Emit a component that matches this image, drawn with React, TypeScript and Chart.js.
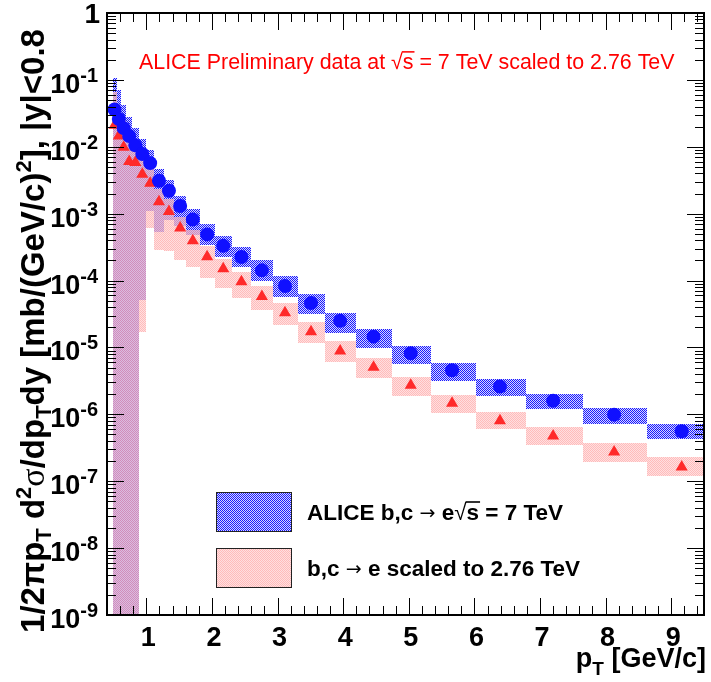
import React, { useEffect, useRef } from 'react';
import { Chart, registerables } from 'chart.js';
Chart.register(...registerables);

// ---------------- data ----------------
const binEdges = [0.485, 0.547, 0.616, 0.695, 0.783, 0.883, 0.996, 1.123, 1.266, 1.427, 1.609, 1.814, 2.045, 2.306, 2.6, 2.932, 3.306, 3.727, 4.202, 4.738, 5.342, 6.023, 6.791, 7.657, 8.633, 9.734];
const ptCenters = [0.515, 0.58, 0.654, 0.738, 0.832, 0.938, 1.058, 1.192, 1.344, 1.515, 1.708, 1.926, 2.172, 2.449, 2.761, 3.113, 3.51, 3.954, 4.463, 5.03, 5.66, 6.39, 7.2, 8.13, 9.16];

const aliceValue = [3.6e-2, 2.6e-2, 1.9e-2, 1.45e-2, 1.05e-2, 7.8e-3, 5.7e-3, 3.1e-3, 2.2e-3, 1.3e-3, 8.2e-4, 4.9e-4, 3.3e-4, 2.25e-4, 1.42e-4, 8.3e-5, 4.6e-5, 2.5e-5, 1.45e-5, 8.2e-6, 4.55e-6, 2.6e-6, 1.6e-6, 9.9e-7, 5.6e-7];
const aliceSysHigh = [1.07e-1, 7.1e-2, 4.2e-2, 2.8e-2, 1.9e-2, 1.3e-2, 8.9e-3, 4.7e-3, 3.2e-3, 1.84e-3, 1.16e-3, 6.9e-4, 4.7e-4, 3.2e-4, 2.0e-4, 1.17e-4, 6.3e-5, 3.27e-5, 1.89e-5, 1.05e-5, 5.86e-6, 3.38e-6, 2.01e-6, 1.24e-6, 7.2e-7];
const aliceSysLow = [1e-10, 1e-10, 1e-10, 1e-10, 1e-10, 5.1e-5, 1.1e-3, 5.3e-4, 8e-4, 6.5e-4, 4.8e-4, 3.4e-4, 2.27e-4, 1.6e-4, 1.0e-4, 5.7e-5, 3.13e-5, 1.66e-5, 9.9e-6, 5.7e-6, 3.18e-6, 1.9e-6, 1.19e-6, 7.2e-7, 4.3e-7];

const scaledValue = [2.1e-2, 1.45e-2, 9.8e-3, 6.0e-3, 5.8e-3, 3.9e-3, 2.84e-3, 1.51e-3, 1.08e-3, 6.1e-4, 3.94e-4, 2.27e-4, 1.5e-4, 9.6e-5, 5.8e-5, 3.3e-5, 1.72e-5, 8.85e-6, 5.05e-6, 2.72e-6, 1.46e-6, 8.0e-7, 4.75e-7, 2.73e-7, 1.63e-7];
const scaledSysHigh = [6.6e-2, 4.07e-2, 2.5e-2, 1.35e-2, 1.1e-2, 6.8e-3, 4.66e-3, 2.34e-3, 1.66e-3, 8.9e-4, 5.7e-4, 3.3e-4, 2.1e-4, 1.34e-4, 8.3e-5, 4.6e-5, 2.4e-5, 1.25e-5, 6.95e-6, 3.6e-6, 1.95e-6, 1.09e-6, 6.4e-7, 3.7e-7, 2.3e-7];
const scaledSysLow = [1e-10, 1e-10, 1e-10, 1e-10, 1e-10, 1.7e-5, 6.1e-4, 2.86e-4, 2.8e-4, 2.0e-4, 1.6e-4, 1.09e-4, 7.7e-5, 5.5e-5, 3.6e-5, 2.17e-5, 1.18e-5, 6.1e-6, 3.53e-6, 1.9e-6, 1.06e-6, 6.0e-7, 3.5e-7, 1.94e-7, 1.2e-7];

const xTickLabels = [1, 2, 3, 4, 5, 6, 7, 8, 9];
const yDecadeExponents = [0, -1, -2, -3, -4, -5, -6, -7, -8, -9];
const X_MIN = 0.4;
const X_MAX = 9.5;
const Y_MIN = 1e-9;
const Y_MAX = 1;

const headerText = ['ALICE Preliminary data at ', 's', ' = 7 TeV scaled to 2.76 TeV'];
const legendAlice = ['ALICE b,c ', ' e', 's', ' = 7 TeV'];
const legendScaled = ['b,c ', ' e scaled to 2.76 TeV'];

// ---------------- helpers ----------------
type Seg = { t: string; size: number; bold?: boolean; family?: string; dy?: number; over?: boolean };
const SANS = '"Liberation Sans", Arial, Helvetica, sans-serif';
const fontOf = (s: Seg) => `${s.bold ? 'bold ' : ''}${s.size}px ${s.family ?? SANS}`;

function richWidth(ctx: CanvasRenderingContext2D, segs: Seg[]) {
  let w = 0;
  for (const s of segs) {
    ctx.font = fontOf(s);
    w += ctx.measureText(s.t).width;
  }
  return w;
}

function drawRich(ctx: CanvasRenderingContext2D, segs: Seg[], x: number, y: number, align: 'left' | 'right' | 'center') {
  const w = richWidth(ctx, segs);
  let cx = align === 'left' ? x : align === 'right' ? x - w : x - w / 2;
  ctx.textAlign = 'left';
  ctx.textBaseline = 'alphabetic';
  for (const s of segs) {
    ctx.font = fontOf(s);
    const sw = ctx.measureText(s.t).width;
    ctx.fillText(s.t, cx, y + (s.dy ?? 0));
    if (s.over) {
      ctx.save();
      ctx.strokeStyle = ctx.fillStyle as string;
      ctx.lineWidth = Math.max(1, s.size / 14);
      ctx.beginPath();
      const oy = y + (s.dy ?? 0) - s.size * 0.8;
      ctx.moveTo(cx - 1, oy);
      ctx.lineTo(cx + sw + 1, oy);
      ctx.stroke();
      ctx.restore();
    }
    cx += sw;
  }
}

function makePattern(ctx: CanvasRenderingContext2D, a: string, b: string) {
  const c = document.createElement('canvas');
  c.width = 2;
  c.height = 2;
  const g = c.getContext('2d')!;
  g.fillStyle = a;
  g.fillRect(0, 0, 1, 1);
  g.fillRect(1, 1, 1, 1);
  g.fillStyle = b;
  g.fillRect(1, 0, 1, 1);
  g.fillRect(0, 1, 1, 1);
  return ctx.createPattern(c, 'repeat')!;
}

let bluePat: CanvasPattern | null = null;
let pinkPat: CanvasPattern | null = null;
function patterns(ctx: CanvasRenderingContext2D) {
  if (!bluePat) bluePat = makePattern(ctx, 'rgba(0,0,255,0.9)', 'rgba(0,0,255,0.16)');
  if (!pinkPat) pinkPat = makePattern(ctx, 'rgba(255,170,170,0.8)', 'rgba(255,0,0,0.12)');
  return { bluePat: bluePat!, pinkPat: pinkPat! };
}

const boxPlugin = {
  id: 'sysBoxes',
  beforeDatasetsDraw(chart: any) {
    const { ctx, chartArea: a, scales } = chart;
    const xs = scales.x;
    const ys = scales.y;
    const p = patterns(ctx);
    ctx.save();
    ctx.beginPath();
    ctx.rect(a.left, a.top, a.right - a.left, a.bottom - a.top);
    ctx.clip();
    const drawSet = (lo: number[], hi: number[], pat: CanvasPattern) => {
      ctx.fillStyle = pat;
      for (let i = 0; i < lo.length; i++) {
        const x0 = Math.round(xs.getPixelForValue(binEdges[i]));
        const x1 = Math.round(xs.getPixelForValue(binEdges[i + 1]));
        const yt = Math.round(ys.getPixelForValue(hi[i]));
        const yb = Math.round(Math.min(ys.getPixelForValue(lo[i]), a.bottom + 5));
        ctx.fillRect(x0, yt, x1 - x0, yb - yt);
      }
    };
    drawSet(aliceSysLow, aliceSysHigh, p.bluePat);
    drawSet(scaledSysLow, scaledSysHigh, p.pinkPat);
    ctx.restore();
  },
};

const framePlugin = {
  id: 'rootFrame',
  afterDraw(chart: any) {
    const { ctx, chartArea: a, scales } = chart;
    const xs = scales.x;
    const ys = scales.y;
    const p = patterns(ctx);
    ctx.save();
    ctx.strokeStyle = '#000';
    ctx.lineWidth = 1;
    const MAJ = 17;
    const MIN = 9;
    ctx.beginPath();
    // x ticks (every 0.2, major on integers)
    for (let k = 2; k <= 47; k++) {
      const v = k / 5;
      if (v < X_MIN - 1e-9 || v > X_MAX + 1e-9) continue;
      const px = Math.round(xs.getPixelForValue(v)) + 0.5;
      const len = k % 5 === 0 ? MAJ : MIN;
      ctx.moveTo(px, a.bottom);
      ctx.lineTo(px, a.bottom - len);
      ctx.moveTo(px, a.top);
      ctx.lineTo(px, a.top + len);
    }
    // y ticks (log)
    for (let d = -9; d <= 0; d++) {
      for (let m = 1; m <= 9; m++) {
        const v = m * Math.pow(10, d);
        if (v > Y_MAX * 1.0001) continue;
        const py = Math.round(ys.getPixelForValue(v)) + 0.5;
        const len = m === 1 ? MAJ : MIN;
        ctx.moveTo(a.left, py);
        ctx.lineTo(a.left + len, py);
        ctx.moveTo(a.right, py);
        ctx.lineTo(a.right - len, py);
      }
    }
    ctx.stroke();
    // frame
    ctx.lineWidth = 2;
    ctx.strokeRect(a.left, a.top, a.right - a.left, a.bottom - a.top);

    // tick labels
    ctx.fillStyle = '#000';
    for (const t of xTickLabels) {
      const px = xs.getPixelForValue(t);
      drawRich(ctx, [{ t: String(t), size: 27, bold: true }], px + 2, 646, 'center');
    }
    for (const e of yDecadeExponents) {
      const py = ys.getPixelForValue(Math.pow(10, e));
      if (e === 0) {
        drawRich(ctx, [{ t: '1', size: 28, bold: true }], 100, py + 10, 'right');
      } else {
        drawRich(ctx, [
          { t: '10', size: 27, bold: true },
          { t: String(e), size: 20, bold: true, dy: -11 },
        ], 98, py + 13, 'right');
      }
    }

    // axis titles
    drawRich(ctx, [
      { t: 'p', size: 27, bold: true },
      { t: 'T', size: 19, bold: true, dy: 8 },
      { t: ' [GeV/c]', size: 27, bold: true },
    ], 706, 667, 'right');

    ctx.save();
    ctx.translate(44, 331);
    ctx.rotate(-Math.PI / 2);
    drawRich(ctx, [
      { t: '1/2', size: 33, bold: true },
      { t: 'π', size: 33, bold: true },
      { t: 'p', size: 33, bold: true },
      { t: 'T', size: 22, bold: true, dy: 7 },
      { t: ' d', size: 33, bold: true },
      { t: '2', size: 22, bold: true, dy: -13 },
      { t: 'σ', size: 34, family: '"Liberation Serif", "Times New Roman", serif' },
      { t: '/dp', size: 33, bold: true },
      { t: 'T', size: 22, bold: true, dy: 7 },
      { t: 'dy [mb/(GeV/c)', size: 33, bold: true },
      { t: '2', size: 22, bold: true, dy: -13 },
      { t: '], |y|<0.8', size: 33, bold: true },
    ], 0, 0, 'center');
    ctx.restore();

    // header
    ctx.fillStyle = '#ff0000';
    drawRich(ctx, [
      { t: headerText[0], size: 21.4 },
      { t: '√', size: 21.4 },
      { t: headerText[1], size: 21.4, over: true },
      { t: headerText[2], size: 21.4 },
    ], 139, 69, 'left');

    // legend
    const lx0 = 216, lx1 = 292;
    const rows = [
      { y0: 492, y1: 532, pat: p.bluePat },
      { y0: 548, y1: 588, pat: p.pinkPat },
    ];
    for (const r of rows) {
      ctx.fillStyle = r.pat;
      ctx.fillRect(lx0, r.y0, lx1 - lx0, r.y1 - r.y0);
      ctx.strokeStyle = '#222';
      ctx.lineWidth = 1;
      ctx.strokeRect(lx0 + 0.5, r.y0 + 0.5, lx1 - lx0 - 1, r.y1 - r.y0 - 1);
    }
    ctx.fillStyle = '#000';
    const ARROW = '"DejaVu Sans", sans-serif';
    drawRich(ctx, [
      { t: legendAlice[0], size: 22.5, bold: true },
      { t: '→', size: 19, family: ARROW, dy: -1 },
      { t: legendAlice[1], size: 22.5, bold: true },
      { t: '√', size: 22.5 },
      { t: legendAlice[2], size: 22.5, bold: true, over: true },
      { t: legendAlice[3], size: 22.5, bold: true },
    ], 307, 520, 'left');
    drawRich(ctx, [
      { t: legendScaled[0], size: 22.5, bold: true },
      { t: '→', size: 19, family: ARROW, dy: -1 },
      { t: legendScaled[1], size: 22.5, bold: true },
    ], 307, 576, 'left');
    ctx.restore();
  },
};

export default function App() {
  const ref = useRef<HTMLCanvasElement>(null);
  useEffect(() => {
    if (!ref.current) return;
    const chart = new Chart(ref.current, {
      type: 'scatter',
      data: {
        datasets: [
          {
            label: 'ALICE b,c → e √s = 7 TeV',
            data: ptCenters.map((x, i) => ({ x, y: aliceValue[i] })),
            pointStyle: 'circle',
            pointRadius: 7,
            backgroundColor: '#1010ff',
            borderWidth: 0,
          },
          {
            label: 'b,c → e scaled to 2.76 TeV',
            data: ptCenters.map((x, i) => ({ x, y: scaledValue[i] })),
            pointStyle: 'triangle',
            pointRadius: 7,
            backgroundColor: '#ff2a2a',
            borderWidth: 0,
          },
        ],
      },
      options: {
        responsive: false,
        animation: false,
        layout: { padding: { left: 107, right: 2, top: 13, bottom: 67 } },
        scales: {
          x: { type: 'linear', min: X_MIN, max: X_MAX, display: false },
          y: { type: 'logarithmic', min: Y_MIN, max: Y_MAX, display: false },
        },
        plugins: { legend: { display: false }, tooltip: { enabled: false } },
      },
      plugins: [boxPlugin, framePlugin],
    });
    return () => chart.destroy();
  }, []);
  return (
    <div style={{ position: 'absolute', left: 0, top: 0, width: 711, height: 682, background: '#fff' }}>
      <canvas ref={ref} width={711} height={682} style={{ width: 711, height: 682 }} />
    </div>
  );
}
